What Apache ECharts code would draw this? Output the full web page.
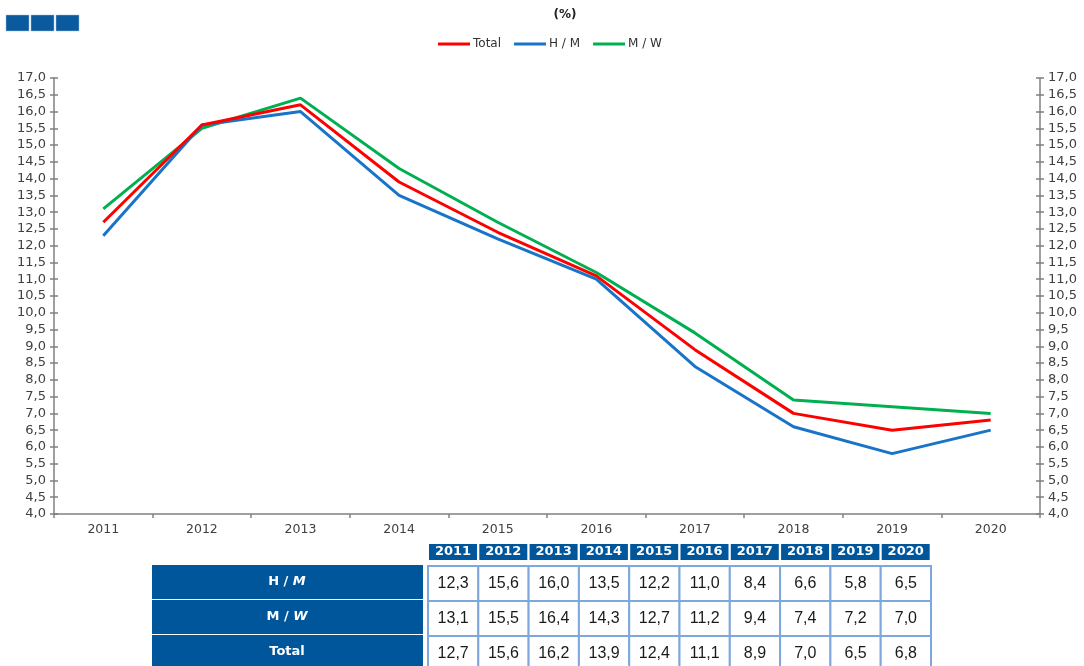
<!DOCTYPE html>
<html>
<head>
<meta charset="utf-8">
<script src="https://cdn.jsdelivr.net/npm/echarts@6/dist/echarts.min.js"></script>
<style>
html,body{margin:0;padding:0;background:#fff;}
#chart{width:1084px;height:666px;}
</style>
</head>
<body>
<div id="chart"></div>
<script>
// ---- data ----
var years = ['2011','2012','2013','2014','2015','2016','2017','2018','2019','2020'];
var hm    = [12.3, 15.6, 16.0, 13.5, 12.2, 11.0, 8.4, 6.6, 5.8, 6.5];
var mw    = [13.1, 15.5, 16.4, 14.3, 12.7, 11.2, 9.4, 7.4, 7.2, 7.0];
var total = [12.7, 15.6, 16.2, 13.9, 12.4, 11.1, 8.9, 7.0, 6.5, 6.8];
var seriesNames = ['Total', 'H / M', 'M / W'];
var rowLabels = ['H / {i|M}', 'M / {i|W}', 'Total'];
var rowData = [hm, mw, total];

function fmt(v){ return v.toFixed(1).replace('.', ','); }

var chart = echarts.init(document.getElementById('chart'), null, {renderer:'canvas'});

var axisColor = '#808080';
var labelFont = 'DejaVu Sans';

// ---- table built from data ----
var graphics = [];
// top-left decoration squares
[6, 31, 56].forEach(function(x){
  graphics.push({type:'rect', shape:{x:x, y:15, width:23, height:16},
    style:{fill:'#0b5a9e', stroke:'#9bbbe0', lineWidth:0.5}});
});
graphics.push({type:'text', x:565, y:15, style:{text:'(%)', font:'bold 12px "DejaVu Sans"', fill:'#222', align:'center', verticalAlign:'middle'}});

var colX0 = 428, pitch = 50.3;
years.forEach(function(y, i){
  var x = 429 + pitch * i;
  graphics.push({type:'rect', shape:{x:x, y:544, width:48, height:16}, style:{fill:'#00569b'}});
  graphics.push({type:'text', x:x + 24, y:552, style:{text:y, font:'bold 13px "DejaVu Sans"', fill:'#fff', align:'center', verticalAlign:'middle'}});
});
var rowTops = [566, 601, 636];
var rowH = 34;
rowLabels.forEach(function(lbl, r){
  graphics.push({type:'rect', shape:{x:152, y:rowTops[r]-1, width:271, height:rowH}, style:{fill:'#00569b'}});
  graphics.push({type:'text', x:287, y:rowTops[r]-1 + rowH/2, style:{text:lbl, font:'bold 13px "DejaVu Sans"', fill:'#fff', align:'center', verticalAlign:'middle',
    rich:{i:{fontStyle:'italic', fontWeight:'bold', fontSize:13, fontFamily:'DejaVu Sans', fill:'#fff'}}}});
  rowData[r].forEach(function(v, c){
    var x = colX0 + pitch * c;
    graphics.push({type:'rect', shape:{x:x, y:rowTops[r], width:pitch, height:rowH+1}, style:{fill:'#fff', stroke:'#7ea8dc', lineWidth:2}});
    graphics.push({type:'text', x:x + pitch/2, y:rowTops[r] + rowH/2 + 1, style:{text:fmt(v), font:'16px "Liberation Sans"', fill:'#1a1a1a', align:'center', verticalAlign:'middle'}});
  });
});

var baseY = {
  type:'value', min:4, max:17, interval:0.5,
  splitLine:{show:false}
};
function yAxis(pos, main){
  return Object.assign({}, baseY, {
    position: pos,
    axisLine:{show:main, lineStyle:{color:axisColor, width:1.5}},
    axisTick:{show:true, inside:!main, length:4, lineStyle:{color:axisColor, width:1.5}},
    axisLabel:{show:main, margin:8, color:'#404040', fontFamily:labelFont, fontSize:13,
      formatter:function(v){ return fmt(v); }}
  });
}

var option = {
  backgroundColor:'#fff',
  animation:false,
  legend:{
    data: seriesNames,
    left:433, top:33,
    icon:'rect', itemWidth:32, itemHeight:3, itemGap:13,
    textStyle:{fontFamily:labelFont, fontSize:12, color:'#333', padding:[0,0,0,-2]}
  },
  grid:{left:54, right:44, top:78, bottom:152, containLabel:false},
  xAxis:{
    type:'category', data:years, boundaryGap:true,
    axisLine:{lineStyle:{color:axisColor, width:1.5}},
    axisTick:{show:true, length:4, lineStyle:{color:axisColor, width:1.5}},
    axisLabel:{margin:9, color:'#404040', fontFamily:labelFont, fontSize:12.5}
  },
  yAxis:[yAxis('left', true), yAxis('right', true), yAxis('left', false), yAxis('right', false)],
  series:[
    {name:'Total', type:'line', data:total, showSymbol:false, symbol:'none', lineStyle:{color:'#ff0000', width:3}, itemStyle:{color:'#ff0000'}, z:3},
    {name:'H / M', type:'line', data:hm, showSymbol:false, symbol:'none', lineStyle:{color:'#1874c8', width:3}, itemStyle:{color:'#1874c8'}, z:2},
    {name:'M / W', type:'line', data:mw, showSymbol:false, symbol:'none', lineStyle:{color:'#00b050', width:3}, itemStyle:{color:'#00b050'}, z:1}
  ],
  graphic: graphics
};
chart.setOption(option);
</script>
</body>
</html>
